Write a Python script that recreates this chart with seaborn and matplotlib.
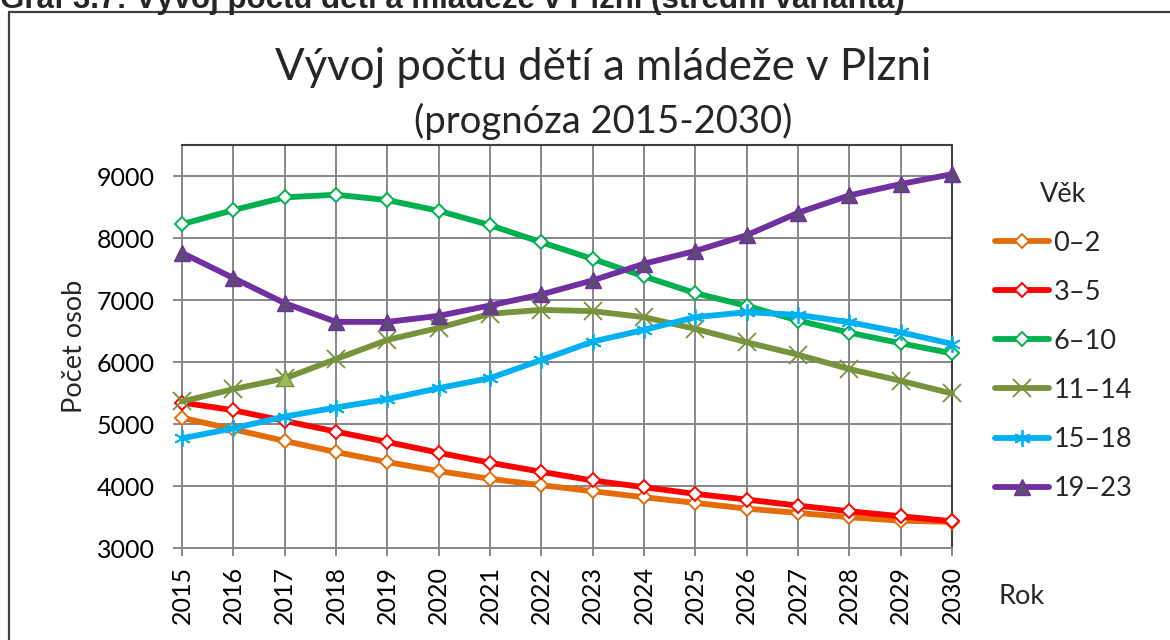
import numpy as np
import pandas as pd
import seaborn as sns
import matplotlib.pyplot as plt
from matplotlib.lines import Line2D

# data
years = list(range(2015, 2031))
age_0_2 = [5100, 4915, 4726, 4548, 4386, 4240, 4116, 4013, 3916, 3819, 3727, 3635, 3566, 3496, 3441, 3420]
age_3_5 = [5346, 5222, 5050, 4877, 4710, 4537, 4375, 4229, 4089, 3981, 3873, 3781, 3684, 3593, 3512, 3431]
age_6_10 = [8223, 8450, 8655, 8698, 8611, 8439, 8207, 7931, 7662, 7381, 7111, 6906, 6669, 6474, 6302, 6140]
age_11_14 = [5363, 5562, 5735, 6048, 6356, 6550, 6777, 6841, 6820, 6723, 6534, 6318, 6118, 5886, 5697, 5492]
age_15_18 = [4769, 4931, 5120, 5266, 5400, 5578, 5740, 6032, 6329, 6518, 6723, 6804, 6760, 6642, 6480, 6291]
age_19_23 = [7760, 7354, 6949, 6647, 6647, 6744, 6911, 7090, 7316, 7585, 7791, 8045, 8406, 8687, 8870, 9030]
labels = ["0–2", "3–5", "6–10", "11–14", "15–18", "19–23"]
y_ticks = [3000, 4000, 5000, 6000, 7000, 8000, 9000]

sns.set_theme(style="white")
plt.rcParams['font.family'] = ['Lato', 'DejaVu Sans']

fig = plt.figure(figsize=(11.7, 6.4), dpi=100)
ax = fig.add_axes([182 / 1170, 1 - 548 / 640, (952 - 182) / 1170, (548 - 145) / 640])

grid_col = '#878787'
fs = 19.5
tick_fs = 18
series = [age_0_2, age_3_5, age_6_10, age_11_14, age_15_18, age_19_23]
styles = [
    dict(color='#E46C0A', marker='D', ms=7.5, mfc='white', mec='#E46C0A', mew=1.4),
    dict(color='#FF0000', marker='D', ms=7.5, mfc='white', mec='#FF0000', mew=1.4),
    dict(color='#00B050', marker='D', ms=7.5, mfc='white', mec='#00B050', mew=1.4),
    dict(color='#77933C', marker='x', ms=13, mec='#77933C', mew=1.3),
    dict(color='#00B0F0', marker=(6, 2, 0), ms=12, mec='#00B0F0', mew=1.3),
    dict(color='#7030A0', marker='^', ms=11.5, mfc='#5F497A', mec='#7030A0', mew=1.0),
]

for vals, lab, st in zip(series, labels, styles):
    df = pd.DataFrame({'Rok': years, 'Počet': vals})
    sns.lineplot(data=df, x='Rok', y='Počet', ax=ax, label=lab, lw=4.2,
                 clip_on=False, zorder=3, **st)

# odd triangle marker on the 11-14 series in 2017
ax.plot(years[2], age_11_14[2], marker='^', ms=11.5, mfc='#9BBB59', mec='#77933C',
        mew=1.0, ls='none', zorder=4, clip_on=False)

ax.set_xlim(2015, 2030)
ax.set_ylim(3000, 9500)
ax.set_xticks(years)
ax.set_xticklabels([str(y) for y in years], rotation=90)
ax.set_yticks(y_ticks)
ax.grid(True, color=grid_col, lw=1.4)
ax.set_axisbelow(True)
ax.tick_params(axis='both', labelsize=tick_fs, colors=grid_col, labelcolor='black',
               width=1.4, direction='out')
ax.tick_params(axis='y', length=6.5, pad=13, left=True)
ax.tick_params(axis='x', length=6, pad=7, bottom=True)
for s in ['left', 'bottom']:
    ax.spines[s].set_color(grid_col)
    ax.spines[s].set_linewidth(1.4)
for s in ['top', 'right']:
    ax.spines[s].set_color('#3F3F3F')
    ax.spines[s].set_linewidth(1.5)

ax.set_xlabel('')
ax.set_ylabel('Počet osob', fontsize=fs, labelpad=7)

fig.text(1022 / 1170, 1 - 596 / 640, 'Rok', fontsize=fs, ha='center', va='center')

leg = ax.legend(loc='upper left', bbox_to_anchor=(981 / 1170, 1 - 168 / 640),
                bbox_transform=fig.transFigure, frameon=False, fontsize=fs,
                title='Věk', title_fontsize=fs, labelspacing=0.89, borderpad=0,
                handlelength=2.0, handletextpad=0.18, numpoints=1)

# title block
fig.text(603 / 1170, 1 - 67 / 640, 'Vývoj počtu dětí a mládeže v Plzni',
         fontsize=31.5, ha='center', va='center')
fig.text(603 / 1170, 1 - 121 / 640, '(prognóza 2015-2030)',
         fontsize=27.5, ha='center', va='center')

# cropped caption above the chart box
fig.text(0.0, 1 - 8 / 640, 'Graf 3.7: Vývoj počtu dětí a mládeže v Plzni (střední varianta)',
         fontsize=22.5, fontweight='bold', family=['Liberation Sans', 'DejaVu Sans'],
         ha='left', va='baseline')

# outer chart frame
fig.add_artist(Line2D([9 / 1170, 9 / 1170], [0, 1 - 12 / 640], transform=fig.transFigure,
                      color='#404040', lw=1.6))
fig.add_artist(Line2D([9 / 1170, 1], [1 - 12 / 640, 1 - 12 / 640], transform=fig.transFigure,
                      color='#404040', lw=1.6))

fig.savefig('out.png', dpi=100)
